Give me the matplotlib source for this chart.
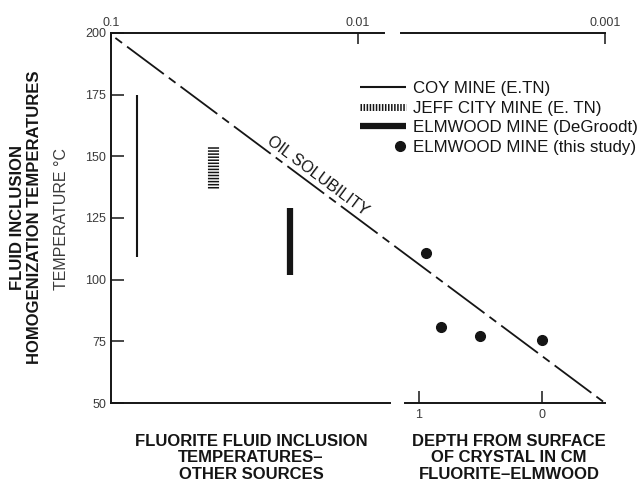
import numpy as np
import matplotlib
matplotlib.use("Agg")
import matplotlib.pyplot as plt
from matplotlib.legend_handler import HandlerLine2D, HandlerLineCollection

plt.rcParams["font.family"] = ["Liberation Sans", "DejaVu Sans"]
plt.rcParams["lines.scale_dashes"] = False

# fluorite fluid inclusion temperatures from other sources (deg C, min/max)
sources = ["COY MINE (E.TN)", "JEFF CITY MINE (E. TN)", "ELMWOOD MINE (DeGroodt)"]
t_low = [109, 137, 102]
t_high = [175, 154, 129]

# this study: depth below crystal surface (cm) and temperature
depth_cm = [0.94, 0.82, 0.50, 0.0]
temp_study = [111, 81, 77, 75.5]

# oil solubility trend (top scale vs temperature)
oil_conc = [0.096, 0.001]
oil_temp = [198, 50]

conc_ticks = [0.1, 0.01, 0.001]
conc_labels = ["0.1", "0.01", "0.001"]
depth_ticks = [1, 0]
temp_ticks = [50, 75, 100, 125, 150, 175, 200]

W, H = 642, 483
ink = "#151515"
lab = "#3a3a3a"


def box(x0, x1, y0=33, y1=403):
    # pixel box -> figure fraction
    return [x0 / W, 1 - y1 / H, (x1 - x0) / W, (y1 - y0) / H]


fig = plt.figure(figsize=(W / 100, H / 100), dpi=100)
axL = fig.add_axes(box(111, 390))
axR = fig.add_axes(box(401, 605))
axT = fig.add_axes(box(111, 605))
for a in (axL, axR, axT):
    a.set_ylim(50, 200)
    a.patch.set_visible(False)
    for s in a.spines.values():
        s.set_visible(False)
        s.set_linewidth(1.4)
        s.set_color(ink)

# left panel: other sources
axL.spines["left"].set_visible(True)
axL.spines["bottom"].set_visible(True)
axL.set_xlim(-0.336, 3.311)
axL.set_xticks([])
axL.set_yticks(temp_ticks)
axL.tick_params(axis="y", direction="in", length=9, width=1.1, pad=3.5,
                labelsize=9, labelcolor=lab, color=ink)
x = np.arange(len(sources))
coy = axL.vlines(x[0], t_low[0], t_high[0], color=ink, lw=1.5)
jeff = axL.vlines(x[1], t_low[1], t_high[1], color=ink, lw=8,
                  linestyles=[(0, (1.1, 1.1))])
deg = axL.vlines(x[2], t_low[2], t_high[2], color=ink, lw=4.5)

# right panel: depth in crystal
axR.spines["bottom"].set_visible(True)
axR.spines["top"].set_visible(True)
axR.set_xlim(1.146, -0.512)
axR.spines["bottom"].set_bounds(-0.512, 1.114)
axR.set_xticks(depth_ticks, [str(d) for d in depth_ticks])
axR.set_yticks([])
axR.tick_params(axis="x", direction="in", length=9, width=1.1, pad=4,
                labelsize=9, labelcolor=lab, color=ink)
pts, = axR.plot(depth_cm, temp_study, "o", ms=7, color=ink)

# top log scale + oil solubility line
axT.set_xscale("log")
axT.set_xlim(0.1, 0.001)
axT.spines["top"].set_visible(True)
axT.spines["top"].set_bounds(0.00786, 0.1)
axT.xaxis.set_ticks_position("top")
axT.set_xticks(conc_ticks, conc_labels)
axT.xaxis.set_minor_locator(plt.NullLocator())
axT.set_yticks([])
axT.tick_params(axis="x", direction="in", length=8, width=1.1, pad=3,
                labelsize=9, labelcolor=lab, color=ink)
axT.plot(oil_conc, oil_temp, color=ink, lw=1.3, dashes=[6, 4.5, 33, 4.5])

p = axT.transData.transform(np.column_stack([oil_conc, oil_temp]))
ang = np.degrees(np.arctan2(p[1, 1] - p[0, 1], p[1, 0] - p[0, 0]))
f = 0.40
lc = 10 ** (np.log10(oil_conc[0]) + f * (np.log10(oil_conc[1]) - np.log10(oil_conc[0])))
lt = oil_temp[0] + f * (oil_temp[1] - oil_temp[0])
th = np.radians(ang)
axT.annotate("OIL SOLUBILITY", (lc, lt), xytext=(-np.sin(th) * 2, np.cos(th) * 2),
             textcoords="offset points", rotation=ang, rotation_mode="anchor",
             ha="center", va="bottom", fontsize=11.5, color=ink)


class EndDot(HandlerLine2D):
    def get_xdata(self, legend, xdescent, ydescent, width, height, fontsize):
        xm = -xdescent + width - 0.35 * fontsize
        return np.array([xm - 1, xm + 1]), np.array([xm])


def hatch_handle(h, o):
    h.set_color(ink)
    h.set_linewidth(5)
    h.set_linestyle((0, (1.1, 1.1)))


fig.legend([coy, jeff, deg, pts],
           sources + ["ELMWOOD MINE (this study)"],
           loc="upper left", bbox_to_anchor=(360 / W, 1 - 81 / H),
           frameon=False, fontsize=12.2, handlelength=2.7, handletextpad=0.45,
           labelspacing=0.27, borderpad=0, borderaxespad=0, labelcolor=ink,
           handler_map={pts: EndDot(numpoints=1),
                        jeff: HandlerLineCollection(update_func=hatch_handle)})

# axis titles
fig.text(26 / W, 1 - 217 / H, "FLUID INCLUSION\nHOMOGENIZATION TEMPERATURES",
         rotation=90, ha="center", va="center", fontsize=12, fontweight="bold",
         linespacing=1.1, color=ink)
fig.text(62 / W, 1 - 219 / H, "TEMPERATURE °C", rotation=90, ha="center",
         va="center", fontsize=11.5, color=lab)
fig.text(251 / W, 1 - 458 / H, "FLUORITE FLUID INCLUSION\nTEMPERATURES–\nOTHER SOURCES",
         ha="center", va="center", fontsize=12, fontweight="bold",
         linespacing=1.1, color=ink)
fig.text(509 / W, 1 - 458 / H, "DEPTH FROM SURFACE\nOF CRYSTAL IN CM\nFLUORITE–ELMWOOD",
         ha="center", va="center", fontsize=12, fontweight="bold",
         linespacing=1.1, color=ink)

fig.savefig("out.png", dpi=100, facecolor="white")
